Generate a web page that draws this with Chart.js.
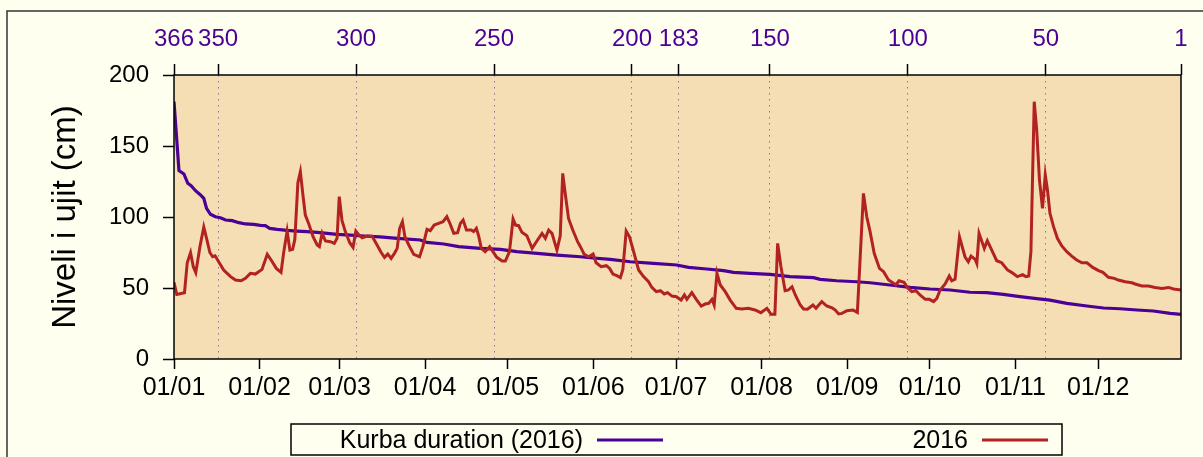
<!DOCTYPE html>
<html>
<head>
<meta charset="utf-8">
<title>Niveli i ujit 2016</title>
<script src="https://cdn.jsdelivr.net/npm/chart.js@4.4.0/dist/chart.umd.js"></script>
<style>
  html, body { margin: 0; padding: 0; background: #fffff0; overflow: hidden; }
  canvas { display: block; }
</style>
</head>
<body>
<canvas id="levels" width="1203" height="457"></canvas>
<script>
// daily water level 2016 (day of year from 01/01, cm)
const dayRed = [
  0, 1, 3.8, 4.8, 6, 7, 7.9, 9.4, 10.8, 11.8, 13, 14, 14.9, 18, 20.5, 22.3, 24.3, 25.9, 27.7, 29.5,
  31.9, 33.8, 35.2, 37.1, 38.8, 39.8, 41, 42, 43, 43.8, 44.9, 45.8, 46.8, 47.6, 48.8, 50.4, 51.9, 52.7, 53.7, 54.9,
  56.7, 58.1, 59.1, 59.9, 60.9, 62.1, 63.7, 64.9, 65.9, 67, 68.2, 70, 71.8, 73.4, 75.1, 76.3, 77.5, 78.7, 79.9, 80.9,
  81.8, 82.8, 83.7, 85.1, 86.9, 89, 90.2, 91.7, 92.9, 94.3, 95.9, 97.5, 98.9, 100.1, 101.4, 102.8, 103.8, 104.8, 106, 107.7,
  108.6, 109.6, 110.4, 111.4, 112.8, 114.4, 115.6, 117, 118.9, 120.1, 121.6, 122.9, 123.8, 124.9, 126.1, 127.9, 129.8, 131.6, 133.4, 134.6,
  135.8, 137, 138.8, 140, 140.9, 141.8, 143, 144.5, 146.3, 147.3, 148.7, 150.3, 151.9, 153, 154.8, 156.7, 157.9, 159.1, 160.5, 161.8,
  162.7, 163.9, 165.1, 166.6, 168.4, 170.2, 172, 173.2, 174.8, 176.3, 177.7, 178.9, 180.5, 182.1, 183.8, 185, 185.9, 187.7, 189.3, 191.1,
  192.5, 193.8, 195, 195.8, 196.8, 198, 199.8, 201.6, 203.8, 205.8, 208.2, 210.6, 212.7, 214.9, 216.4, 217.8, 218.8, 220, 221.5, 222.7,
  224, 225.2, 227, 228.2, 229.6, 231.6, 232.7, 234.8, 236.6, 238.5, 239.7, 240.9, 242.1, 243.9, 246.1, 247.7, 249.9, 251.1, 252.3, 253.8,
  255.7, 257.2, 259, 260.8, 261.6, 262.8, 264.6, 265.8, 267.4, 268.9, 270.4, 272.3, 273.8, 275.3, 276.5, 277.7, 279.5, 281, 281.9, 283.1,
  284.7, 286.7, 287.9, 288.9, 290.4, 291, 291.8, 293.7, 294.8, 296.4, 298.2, 300, 302.1, 303.6, 305.7, 307.6, 308.8, 309.8, 310.6, 311.8,
  312.7, 313.7, 314.8, 315.8, 316.6, 317.5, 318.8, 320.2, 321.8, 323.6, 325.4, 327.2, 329.1, 330.9, 333, 335.1, 336.7, 338.7, 340.8, 342.3,
  344.8, 347.2, 348.4, 350.8, 353.2, 355.6, 358.1, 360.5, 362.3, 365
];
const levelRed = [
  54, 45.5, 46.7, 67.8, 74.9, 65, 60.8, 79, 93, 85, 75, 72, 72.7, 62.7, 58, 55.6, 55.1, 56.8, 60.3, 59.8,
  63.1, 73.7, 69.7, 63.8, 61, 75.6, 90.1, 76.7, 77.2, 84.2, 124.2, 131.9, 114.3, 101.4, 95.5, 86.1, 80.3, 79.1, 88.5, 83.1,
  82.6, 81.4, 85, 114.3, 97.4, 89.7, 81.9, 78.6, 90.1, 87.3, 85.4, 86.6, 86.5, 81, 75, 71.6, 73.9, 70.9, 74.4, 77.9,
  92, 96.7, 86.1, 80.3, 73.7, 72, 79.1, 91.3, 90.4, 94.3, 95.5, 96.7, 100.2, 95.1, 88.5, 88.9, 95.5, 97.9, 90.8, 90.8,
  89.7, 92, 86.8, 77.9, 75.6, 79.1, 75.6, 71.6, 69, 69, 75.6, 98.6, 94.3, 93.9, 89.2, 86.8, 77.9, 83.3, 88.5, 85,
  90.8, 88.5, 76.7, 86.8, 130.7, 116.6, 99, 91, 82.6, 79.1, 73.7, 72, 73.9, 67.8, 65, 65.7, 63.8, 59.8, 58.7, 57.3,
  63.1, 90.1, 86.1, 75.6, 62.7, 58, 54.4, 50.4, 47.4, 48.1, 45.8, 46.7, 44.3, 43.9, 41.5, 45.1, 42, 46.7, 42, 37.3,
  38.7, 39.2, 42, 38, 60.3, 52.1, 47.4, 41.5, 35.7, 35.2, 35.7, 34.5, 32.6, 35.7, 31.5, 31.5, 81.4, 65, 48.1, 48.6,
  50.9, 45.1, 38, 35.2, 35, 38, 35.7, 40.4, 37.3, 36.1, 34.5, 31.7, 32.1, 34, 34.5, 32.8, 116.6, 100.2, 89.7, 74.4,
  63.8, 61.5, 55.6, 53.3, 52.1, 55.1, 54, 50.4, 47.4, 48.1, 45.1, 42, 42, 40.4, 42.7, 48.6, 52.8, 58.4, 55.1, 56.1,
  86.1, 72, 68.5, 72.5, 70.2, 67.3, 88.5, 77.9, 83.3, 76.7, 69.2, 67.8, 62.7, 61, 58, 59.4, 58, 58.4, 75.6, 181.2,
  161.2, 126, 106.1, 129.6, 119, 102.6, 93.2, 85, 79.6, 75.6, 72.5, 69.7, 67.8, 67.8, 64.5, 62.2, 61, 57.5, 56.8, 55.6,
  54.4, 53.7, 52.8, 51.4, 51.4, 50.4, 49.7, 50.4, 49.3, 48.6
];

// duration curve 2016 (position along the year, cm)
const dayDur = [
  0, 1.8, 3.6, 5, 6.2, 7.8, 9.6, 10.8, 11.8, 13.2, 15, 16.8, 18.7, 21.1, 23.5, 25.9, 28.9, 31.3, 33.1, 34.7,
  37.4, 41, 44.6, 48.2, 51.9, 55.5, 59.1, 63.9, 68.8, 74.6, 81, 89.3, 91.7, 97.8, 103.2, 111, 118.3, 124.3, 131.6, 138.8,
  147.3, 150.9, 158.1, 165.4, 173.8, 182.2, 186.5, 193.1, 199.2, 202.8, 208.8, 216.1, 223.3, 231.8, 234.2, 240.2, 247.4, 252.3, 259.5, 266.8,
  274, 281.3, 288.5, 294.6, 300.6, 306.6, 312.7, 317.5, 323.6, 330.9, 336.9, 342.9, 349, 355, 361.1, 365
];
const levelDur = [
  181.2, 132.6, 130.3, 123.7, 122, 118.5, 115.5, 113.1, 106.1, 101.9, 100.2, 99.5, 97.9, 97.4, 96, 95.1, 94.8, 94.1, 93.9, 92,
  91.3, 90.6, 90.1, 89.7, 89.2, 88.5, 87.8, 87.3, 86.6, 86, 85, 83.8, 82.1, 81, 79.1, 77.9, 77.2, 75.6, 74.4, 73.2,
  72, 71.3, 70.2, 68.5, 67.3, 66.2, 64.5, 63.4, 62.2, 61, 60.3, 59.6, 58, 57.3, 56.1, 55.1, 54.4, 53.7, 52.1, 50.4,
  49.3, 48.6, 47, 46.7, 45.5, 43.9, 42.5, 41.5, 39.2, 37.3, 35.9, 35.4, 34.5, 33.8, 32.1, 31.4
];

// bottom axis: first day of each month
const monthDays = [0, 31, 60, 91, 121, 152, 182, 213, 244, 274, 305, 335];
const monthLabels = ['01/01', '01/02', '01/03', '01/04', '01/05', '01/06',
                     '01/07', '01/08', '01/09', '01/10', '01/11', '01/12'];

// top axis: rank in the duration curve (366 days)
const rankTicks = [366, 350, 300, 250, 200, 183, 150, 100, 50, 1];

const FONT = 'Liberation Sans, Arial, sans-serif';
const PURPLE = '#4b0096';
const RED = '#b22222';

const toPoints = (xs, ys) => xs.map((x, i) => ({ x: x, y: ys[i] }));

// background, outer frame and the plot panel
const framePlugin = {
  id: 'framePlugin',
  beforeDraw(chart) {
    const { ctx, chartArea: a } = chart;
    ctx.save();
    ctx.fillStyle = '#fffff0';
    ctx.fillRect(0, 0, chart.width, chart.height);
    ctx.strokeStyle = '#333';
    ctx.lineWidth = 1.5;
    ctx.strokeRect(7, 11, chart.width + 20, chart.height + 20);
    ctx.fillStyle = '#f5deb3';
    ctx.fillRect(a.left, a.top, a.right - a.left, a.bottom - a.top);
    ctx.restore();
  },
  afterDatasetsDraw(chart) {
    const { ctx, chartArea: a } = chart;
    ctx.save();
    ctx.strokeStyle = '#000';
    ctx.lineWidth = 1.5;
    ctx.strokeRect(a.left, a.top, a.right - a.left, a.bottom - a.top);
    ctx.restore();
  }
};

// boxed legend under the axis, text first then the line sample
const legendBox = {
  id: 'legendBox',
  afterDraw(chart) {
    const ctx = chart.ctx;
    const y = 440;
    ctx.save();
    ctx.fillStyle = '#fffff0';
    ctx.fillRect(291, 424, 771, 31);
    ctx.strokeStyle = '#000';
    ctx.lineWidth = 1.5;
    ctx.strokeRect(291, 424, 771, 31);
    ctx.font = '25px ' + FONT;
    ctx.fillStyle = '#000';
    ctx.textAlign = 'right';
    ctx.textBaseline = 'middle';
    const entries = chart.data.datasets.slice().sort((p, q) => q.order - p.order);
    const spots = [{ textX: 583, lineX: 597 }, { textX: 968, lineX: 982 }];
    entries.forEach((ds, i) => {
      const s = spots[i];
      ctx.fillText(ds.label, s.textX, y + 1);
      ctx.strokeStyle = ds.borderColor;
      ctx.lineWidth = 3;
      ctx.beginPath();
      ctx.moveTo(s.lineX, y);
      ctx.lineTo(s.lineX + 66, y);
      ctx.stroke();
    });
    ctx.restore();
  }
};

new Chart(document.getElementById('levels'), {
  type: 'line',
  data: {
    datasets: [
      {
        label: '2016',
        data: toPoints(dayRed, levelRed),
        borderColor: RED,
        borderWidth: 3,
        pointRadius: 0,
        tension: 0,
        order: 0
      },
      {
        label: 'Kurba duration (2016)',
        data: toPoints(dayDur, levelDur),
        borderColor: PURPLE,
        borderWidth: 3.2,
        pointRadius: 0,
        tension: 0,
        order: 1
      }
    ]
  },
  options: {
    responsive: false,
    animation: false,
    devicePixelRatio: 1,
    layout: { padding: { left: 0, right: 22, top: 0, bottom: 0 } },
    plugins: {
      legend: { display: false },
      tooltip: { enabled: false }
    },
    scales: {
      x: {
        type: 'linear',
        position: 'bottom',
        min: 0,
        max: 365,
        afterBuildTicks: s => { s.ticks = monthDays.map(v => ({ value: v })); },
        afterFit: s => { s.height = 98; },
        ticks: {
          autoSkip: false,
          maxRotation: 0,
          padding: 4,
          color: '#000',
          font: { family: FONT, size: 25 },
          callback: (v, i) => monthLabels[i]
        },
        grid: { drawOnChartArea: false, tickLength: 10, tickColor: '#000', tickWidth: 1.5 },
        border: { display: false }
      },
      xTop: {
        type: 'linear',
        position: 'top',
        min: 0,
        max: 365,
        afterBuildTicks: s => { s.ticks = rankTicks.map(r => ({ value: 366 - r })); },
        afterFit: s => { s.height = 75; },
        ticks: {
          autoSkip: false,
          maxRotation: 0,
          padding: 10,
          color: '#4b0096',
          font: { family: FONT, size: 24 },
          callback: (v, i) => String(rankTicks[i])
        },
        grid: {
          drawOnChartArea: true,
          lineWidth: 1,
          color: c => (c.tick && (c.tick.value === 0 || c.tick.value === 365)) ? 'rgba(0,0,0,0)' : '#8f6fb8',
          tickLength: 11,
          tickColor: '#000',
          tickWidth: 1.5
        },
        border: { display: false, dash: [1.5, 4.5] }
      },
      y: {
        min: 0,
        max: 200,
        afterFit: s => { s.width = 174; },
        ticks: {
          stepSize: 50,
          padding: 14,
          color: '#000',
          font: { family: FONT, size: 24 }
        },
        grid: { drawOnChartArea: false, tickLength: 11, tickColor: '#000', tickWidth: 1.5 },
        border: { display: false },
        title: {
          display: true,
          text: 'Niveli i ujit (cm)',
          color: '#000',
          font: { family: FONT, size: 33 },
          padding: { top: 46, bottom: 0 }
        }
      }
    }
  },
  plugins: [framePlugin, legendBox]
});
</script>
</body>
</html>
